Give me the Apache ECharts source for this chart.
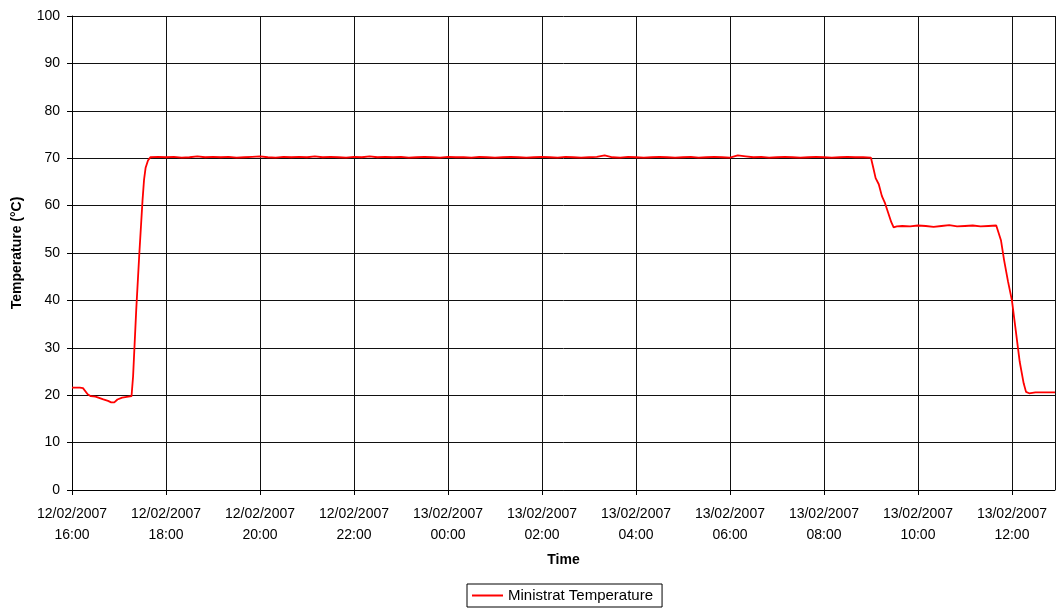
<!DOCTYPE html>
<html>
<head>
<meta charset="utf-8">
<script src="https://cdn.jsdelivr.net/npm/echarts@6/dist/echarts.min.js"></script>
<style>html,body{margin:0;padding:0;background:#fff;overflow:hidden}#c{width:1056px;height:608px}</style>
</head>
<body>
<div id="c"></div>
<script>
// Minutes elapsed since 12/02/2007 16:00
const minutes = [0,10,14,20,24,30,40,46,50,54,58,64,72,76,78,82,86,90,92,94,97,100,
110,120,130,140,150,160,170,180,190,200,
210,220,230,240,250,260,270,280,290,300,
310,320,330,340,350,360,370,380,390,400,
410,420,430,440,450,460,470,480,490,500,
510,520,530,540,550,560,570,580,590,600,
610,620,630,640,650,660,670,680,690,700,
710,720,730,740,750,760,770,780,790,800,
810,820,830,840,850,860,870,880,890,900,
910,920,930,940,950,960,970,980,990,1000,1010,
1020,1023,1026,1030,1034,1038,1042,1046,1049,1053,
1060,1070,1080,1090,1100,1110,1120,1130,1140,1150,1160,1170,1180,
1182,1186,1190,1195,1200,1205,1210,1215,1218,1222,1230,1240,1250,1255];
// Ministrat Temperature (°C)
const temps = [21.6,21.6,21.5,20.2,19.8,19.7,19.1,18.8,18.5,18.5,19.1,19.5,19.7,19.8,24,38,50,61,65.5,68,69.5,70.2,
70.3,70.2,70.3,70.1,70.2,70.4,70.2,70.3,70.2,70.3,
70.1,70.2,70.3,70.4,70.2,70.1,70.3,70.2,70.3,70.2,
70.4,70.2,70.3,70.2,70.1,70.3,70.2,70.4,70.2,70.3,
70.2,70.3,70.1,70.2,70.3,70.2,70.1,70.3,70.2,70.2,
70.1,70.3,70.2,70.1,70.2,70.3,70.2,70.1,70.2,70.3,
70.2,70.1,70.3,70.2,70.1,70.2,70.3,70.6,70.2,70.1,
70.3,70.2,70.1,70.2,70.3,70.2,70.1,70.2,70.3,70.1,
70.2,70.3,70.2,70.1,70.6,70.4,70.2,70.3,70.1,70.2,
70.3,70.2,70.1,70.2,70.3,70.2,70.1,70.2,70.3,70.2,70.2,
70.1,68,65.8,64.5,62,60.5,58.5,56.5,55.4,55.6,
55.7,55.6,55.8,55.7,55.5,55.7,55.9,55.6,55.7,55.8,55.6,55.7,55.8,
55.8,52.7,48.5,44,40,33.5,27,22.5,20.7,20.4,20.6,20.6,20.6,20.6];
const seriesName = 'Ministrat Temperature';
const xTitle = 'Time';
const yTitle = 'Temperature (°C)';

const startDate = new Date(2007, 1, 12, 16, 0, 0);
function pad(n){return (n<10?'0':'')+n;}
function fmt(v){
  if (Math.round(v) % 120 !== 0) return '';
  const d = new Date(startDate.getTime() + v*60000);
  return pad(d.getDate())+'/'+pad(d.getMonth()+1)+'/'+d.getFullYear()+'\n'+pad(d.getHours())+':'+pad(d.getMinutes());
}
const data = minutes.map((m,i)=>[m, temps[i]]);
const FONT = 'Liberation Sans, Arial, sans-serif';
const chart = echarts.init(document.getElementById('c'), null, {renderer:'canvas'});
chart.setOption({
  animation:false,
  backgroundColor:'#fff',
  grid:{left:72, top:16, width:983, bottom:118, containLabel:false},
  xAxis:{
    type:'value', min:0, max:1255, interval:120,
    name:xTitle, nameLocation:'middle', nameGap:63,
    nameTextStyle:{fontFamily:FONT, fontSize:14, fontWeight:'bold', color:'#000'},
    axisLine:{show:true, onZero:false, lineStyle:{color:'#000', width:1}},
    axisTick:{show:true, length:5, lineStyle:{color:'#000'}},
    axisLabel:{formatter:fmt, fontFamily:FONT, fontSize:14, color:'#000', lineHeight:21, margin:14, showMaxLabel:false},
    splitLine:{show:true, lineStyle:{color:'#111', width:1}}
  },
  yAxis:{
    type:'value', min:0, max:100, interval:10,
    name:yTitle, nameLocation:'middle', nameGap:48,
    nameTextStyle:{fontFamily:FONT, fontSize:14, fontWeight:'bold', color:'#000'},
    axisLine:{show:true, lineStyle:{color:'#000', width:1}},
    axisTick:{show:true, length:5, lineStyle:{color:'#000'}},
    axisLabel:{fontFamily:FONT, fontSize:14, color:'#000', margin:12},
    splitLine:{show:true, lineStyle:{color:'#111', width:1}}
  },
  legend:{
    left:467, top:584, padding:[4,9,4,5],
    borderColor:'#000', borderWidth:1,
    itemWidth:31, itemHeight:2, itemGap:5,
    icon:'rect',
    textStyle:{fontFamily:FONT, fontSize:15, color:'#000'},
    data:[{name:seriesName, icon:'rect'}]
  },
  series:[{
    name:seriesName, type:'line', data:data, showSymbol:false, symbol:'none',
    lineStyle:{color:'#ff0000', width:1.8}, itemStyle:{color:'#ff0000'}
  }]
});
</script>
</body>
</html>
